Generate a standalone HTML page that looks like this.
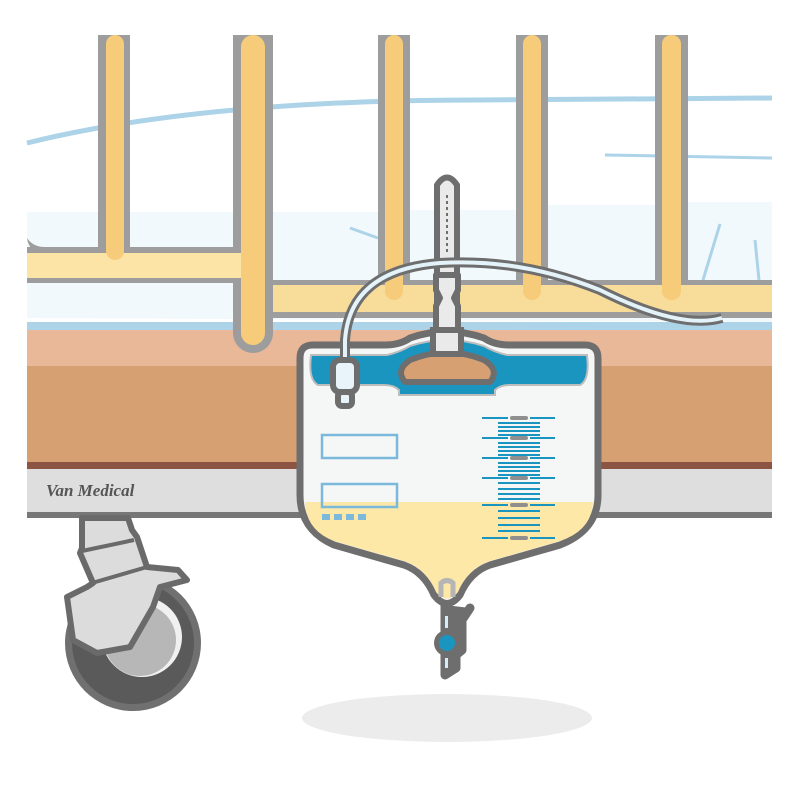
<!DOCTYPE html>
<html><head><meta charset="utf-8"><style>html,body{margin:0;padding:0;background:#fff}svg{display:block}</style></head>
<body>
<svg width="800" height="800" viewBox="0 0 800 800" xmlns="http://www.w3.org/2000/svg">
<rect width="800" height="800" fill="#fff"/>
<path d="M27 212 L772 200 L772 322 L27 318 Z" fill="#f2f9fd"/>
<rect x="27" y="322" width="745" height="8" fill="#acd3e8"/>
<rect x="27" y="330" width="745" height="36" fill="#e8b898"/>
<rect x="27" y="366" width="745" height="96" fill="#d6a072"/>
<rect x="27" y="462" width="745" height="7" fill="#8b5443"/>
<rect x="27" y="469" width="745" height="43" fill="#dedede"/>
<rect x="27" y="512" width="745" height="6" fill="#777"/>
<text x="46" y="496" font-family="Liberation Serif, serif" font-style="italic" font-weight="bold" font-size="17" fill="#555">Van Medical</text>
<g fill="#9d9d9d">
<rect x="98" y="35" width="32" height="220"/>
<rect x="233" y="35" width="40" height="300"/>
<circle cx="253" cy="333" r="20"/>
<rect x="378" y="35" width="32" height="255"/>
<rect x="516" y="35" width="32" height="255"/>
<rect x="655" y="35" width="33" height="255"/>
<path d="M27 247 L255 247 L255 283 L27 283 Z"/>
<rect x="255" y="280" width="517" height="38"/>
</g>
<g fill="#fff">
<rect x="130" y="35" width="103" height="212"/>
<rect x="273" y="35" width="105" height="245"/>
<rect x="410" y="35" width="106" height="245"/>
<rect x="548" y="35" width="107" height="245"/>
<rect x="688" y="35" width="84" height="245"/>
<rect x="27" y="35" width="71" height="177"/>
</g>
<g fill="#f2f9fd">
<rect x="27" y="212" width="71" height="30"/>
<rect x="130" y="212" width="103" height="35"/>
<rect x="273" y="212" width="105" height="68"/>
<rect x="410" y="210" width="106" height="70"/>
<rect x="548" y="205" width="107" height="75"/>
<rect x="688" y="202" width="84" height="78"/>
</g>
<g stroke="#acd3e8" fill="none">
<path d="M27 143 Q200 100 480 100 L772 98" stroke-width="5"/>
<path d="M605 155 L772 158" stroke-width="3"/>
<path d="M350 228 L378 238" stroke-width="3"/>
<path d="M720 224 Q712 250 703 280" stroke-width="3"/>
<path d="M755 240 Q757 260 759 280" stroke-width="3"/>
</g>
<g fill="#9d9d9d">
<rect x="98" y="35" width="8" height="212"/><rect x="124" y="35" width="6" height="212"/>
<rect x="233" y="35" width="8" height="212"/><rect x="265" y="35" width="8" height="245"/>
<rect x="378" y="35" width="7" height="245"/><rect x="403" y="35" width="7" height="245"/>
<rect x="516" y="35" width="7" height="245"/><rect x="541" y="35" width="7" height="245"/>
<rect x="655" y="35" width="7" height="245"/><rect x="681" y="35" width="7" height="245"/>
</g>
<path d="M27 253 L248 253 a12 12 0 0 1 0 25 L27 278 Z" fill="#fce4a6"/>
<path d="M27 238 Q29 253 45 253 L45 247 Q33 247 27 238 Z" fill="#9d9d9d"/>
<rect x="273" y="285" width="499" height="27" fill="#f8dc9a"/>
<g fill="#f6cc7a">
<rect x="106" y="35" width="18" height="225" rx="9"/>
<rect x="241" y="35" width="24" height="310" rx="12"/>
<rect x="385" y="35" width="18" height="265" rx="9"/>
<rect x="523" y="35" width="18" height="265" rx="9"/>
<rect x="662" y="35" width="19" height="265" rx="9"/>
</g>
<circle cx="133" cy="643" r="68" fill="#707070"/>
<circle cx="133" cy="643" r="61" fill="#5a5a5a"/>
<circle cx="142" cy="637" r="40" fill="#f0f0f0"/>
<circle cx="140" cy="640" r="36" fill="#b7b7b7"/>
<path d="M82 518 L82 548 L80 553 L93 583 L87 587 L67 597 L73 640 L97 653 L130 647 L153 607 L160 587 L187 580 L178 570 L147 567 L137 537 L132 530 L128 518 Z" fill="#dcdcdc" stroke="#6a6a6a" stroke-width="6" stroke-linejoin="round"/>
<path d="M82 551 L134 540 M92 583 L147 567" stroke="#6a6a6a" stroke-width="4" fill="none"/>
<ellipse cx="447" cy="718" rx="145" ry="24" fill="#ececec"/>
<path d="M437 310 L437 185 Q447 170 457 185 L457 310 Z" fill="#eaeaea" stroke="#6e6e6e" stroke-width="6" stroke-linejoin="round"/>
<path d="M447 195 L447 255" stroke="#6e6e6e" stroke-width="2" stroke-dasharray="3 3"/>
<path d="M436 275 L458 275 L458 290 L454 298 L458 306 L458 334 L436 334 L436 306 L440 298 L436 290 Z" fill="#eaeaea" stroke="#6e6e6e" stroke-width="6" stroke-linejoin="round"/>
<path d="M313 345 L385 345 Q400 345 410 338 Q447 325 484 338 Q494 345 510 345 L585 345 Q598 345 598 358 L598 495 Q598 530 560 545 L490 565 Q470 572 460 595 Q447 612 434 595 Q424 572 404 565 L334 545 Q300 530 300 495 L300 358 Q300 345 313 345 Z" fill="#f5f7f7" stroke="#6e6e6e" stroke-width="7"/>
<path d="M305 502 L593 502 L593 500 Q593 530 560 541 L490 561 Q468 568 458 592 Q447 605 436 592 Q426 568 404 561 L334 541 Q305 530 305 500 Z" fill="#fde8a8"/>
<path d="M311 355 L387 355 Q400 352 410 346 Q447 334 484 346 Q494 352 507 355 L587 355 Q590 380 580 385 L510 385 Q500 385 495 390 L495 395 L399 395 L399 390 Q394 385 384 385 L318 385 Q308 380 311 355 Z" fill="#1a95c0" stroke="#bdbdbd" stroke-width="2"/>
<path d="M410 360 Q447 345 484 360 Q500 370 490 382 L405 382 Q395 370 410 360 Z" fill="#d6a072" stroke="#6e6e6e" stroke-width="6"/>
<rect x="433" y="330" width="28" height="24" fill="#eaeaea" stroke="#6e6e6e" stroke-width="6"/>
<rect x="322" y="435" width="75" height="23" fill="none" stroke="#7ab8dc" stroke-width="2.5"/>
<rect x="322" y="484" width="75" height="23" fill="none" stroke="#7ab8dc" stroke-width="2.5"/>
<g fill="#7ab8dc"><rect x="322" y="514" width="8" height="6"/><rect x="334" y="514" width="8" height="6"/><rect x="346" y="514" width="8" height="6"/><rect x="358" y="514" width="8" height="6"/></g>
<g stroke="#1a95c0" stroke-width="2">
<path d="M482 418H508M530 418H555M482 438H508M530 438H555M482 458H508M530 458H555M482 478H508M530 478H555M482 505H508M530 505H555M482 538H508M530 538H555"/>
<path d="M498 423H540M498 427H540M498 431H540M498 435H540M498 443H540M498 447H540M498 451H540M498 455H540M498 463H540M498 467H540M498 471H540M498 475H540M498 483H540M498 489H540M498 494H540M498 499H540M498 511H540M498 518H540M498 525H540M498 531H540"/>
</g>
<g fill="#8f8f8f"><rect x="510" y="416" width="18" height="4" rx="2"/><rect x="510" y="436" width="18" height="4" rx="2"/><rect x="510" y="456" width="18" height="4" rx="2"/><rect x="510" y="476" width="18" height="4" rx="2"/><rect x="510" y="503" width="18" height="4" rx="2"/><rect x="510" y="536" width="18" height="4" rx="2"/></g>
<path d="M441 597 L441 583 Q447 578 453 583 L453 597" fill="none" stroke="#b5b5b5" stroke-width="5"/>
<path d="M445 605 L445 675 L456 668 L456 655 L462 650 L462 620 L470 608" fill="#6e6e6e" stroke="#6e6e6e" stroke-width="9" stroke-linejoin="round" stroke-linecap="round"/>
<circle cx="447" cy="643" r="13" fill="#6e6e6e"/>
<circle cx="447" cy="643" r="8" fill="#1a95c0"/>
<rect x="445" y="616" width="3" height="12" fill="#d8ecf7"/>
<rect x="445" y="658" width="3" height="10" fill="#d8ecf7"/>
<path d="M345 365 L345 340 Q350 270 440 263 Q520 258 600 290 Q680 330 722 318" fill="none" stroke="#6e6e6e" stroke-width="10"/>
<path d="M345 365 L345 340 Q350 270 440 263 Q520 258 600 290 Q680 330 722 318" fill="none" stroke="#e4f2fa" stroke-width="4"/>
<rect x="333" y="360" width="24" height="32" rx="7" fill="#e8f3fa" stroke="#6e6e6e" stroke-width="6"/>
<rect x="338" y="392" width="14" height="14" rx="4" fill="#e8f3fa" stroke="#6e6e6e" stroke-width="6"/>
</svg>
</body></html>
